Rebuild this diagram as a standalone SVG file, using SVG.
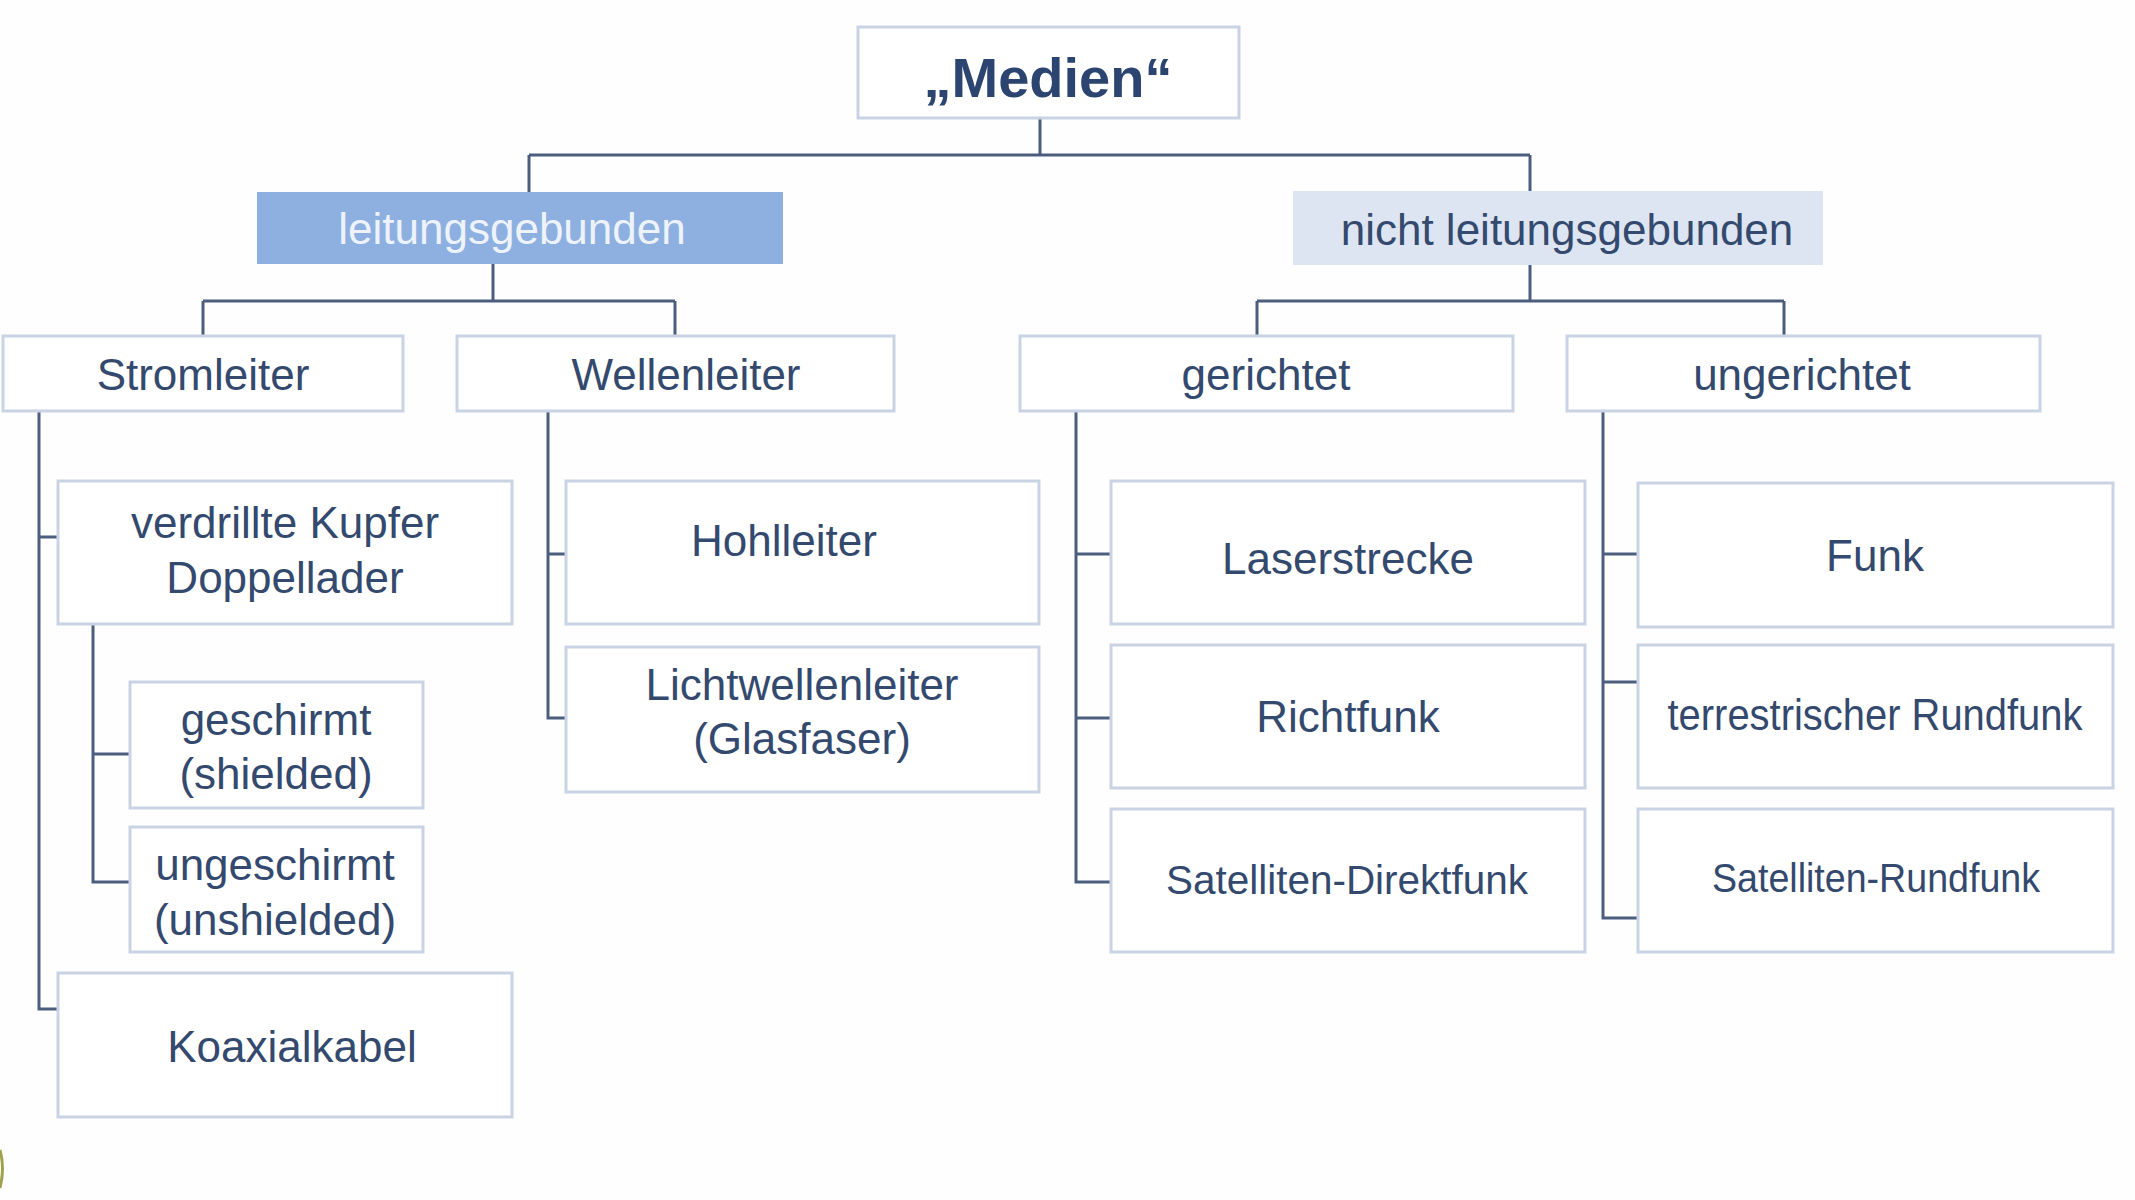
<svg xmlns="http://www.w3.org/2000/svg" width="2135" height="1200" viewBox="0 0 2135 1200">
<style>
.bg{fill:#fefefe}
.box{fill:#ffffff;stroke:#c9d3e3;stroke-width:3}
.lb{fill:#8db0e0;stroke:none}
.nlb{fill:#dce5f1;stroke:none}
.t{font-family:"Liberation Sans",Arial,sans-serif;fill:#34496e;text-anchor:middle;font-size:44px}
.tw{fill:#eef3fb}
.tb{font-weight:bold;font-size:56px;fill:#2b4470}
.ts{font-size:40px}
.con{fill:none;stroke:#4b5e7e;stroke-width:3}
</style>
<rect class="bg" x="0" y="0" width="2135" height="1200"/>
<path d="M0 1150 Q5 1168 0 1188" fill="none" stroke="#9ea24a" stroke-width="3"/>
<g id="connectors">
<path class="con" d="M1040 118V155M529 155H1530M529 155V192M1530 155V191"/>
<path class="con" d="M493 264V301M203 301H675M203 301V336M675 301V336"/>
<path class="con" d="M1530 265V301M1257 301H1784M1257 301V336M1784 301V336"/>
<path class="con" d="M39 411V1009H58M39 537H58"/>
<path class="con" d="M93 624V882H130M93 754H130"/>
<path class="con" d="M548 411V718H566M548 554H566"/>
<path class="con" d="M1076 411V882H1111M1076 554H1111M1076 718H1111"/>
<path class="con" d="M1603 411V918H1638M1603 554H1638M1603 682H1638"/>
</g>
<g id="medien"><rect class="box" x="858" y="27" width="381" height="91"/><text class="t tb" x="1048" y="97">„Medien“</text></g>
<g id="leitungsgebunden"><rect class="lb" x="257" y="192" width="526" height="72"/><text class="t tw" x="512" y="244">leitungsgebunden</text></g>
<g id="nicht-leitungsgebunden"><rect class="nlb" x="1293" y="191" width="530" height="74"/><text class="t" x="1567" y="245">nicht leitungsgebunden</text></g>
<g id="stromleiter"><rect class="box" x="3" y="336" width="400" height="75"/><text class="t" x="203" y="390">Stromleiter</text></g>
<g id="wellenleiter"><rect class="box" x="457" y="336" width="437" height="75"/><text class="t" x="686" y="390">Wellenleiter</text></g>
<g id="gerichtet"><rect class="box" x="1020" y="336" width="493" height="75"/><text class="t" x="1266" y="390">gerichtet</text></g>
<g id="ungerichtet"><rect class="box" x="1567" y="336" width="473" height="75"/><text class="t" x="1802" y="390">ungerichtet</text></g>
<g id="verdrillte"><rect class="box" x="58" y="481" width="454" height="143"/><text class="t" x="285" y="538">verdrillte Kupfer</text><text class="t" x="285" y="593">Doppellader</text></g>
<g id="geschirmt"><rect class="box" x="130" y="682" width="293" height="126"/><text class="t" x="276" y="735">geschirmt</text><text class="t" x="276" y="789">(shielded)</text></g>
<g id="ungeschirmt"><rect class="box" x="130" y="827" width="293" height="125"/><text class="t" x="275" y="880">ungeschirmt</text><text class="t" x="275" y="935">(unshielded)</text></g>
<g id="koaxialkabel"><rect class="box" x="58" y="973" width="454" height="144"/><text class="t" x="292" y="1062">Koaxialkabel</text></g>
<g id="hohlleiter"><rect class="box" x="566" y="481" width="473" height="143"/><text class="t" x="784" y="556">Hohlleiter</text></g>
<g id="lichtwellenleiter"><rect class="box" x="566" y="647" width="473" height="145"/><text class="t" x="802" y="700">Lichtwellenleiter</text><text class="t" x="802" y="754">(Glasfaser)</text></g>
<g id="laserstrecke"><rect class="box" x="1111" y="481" width="474" height="143"/><text class="t" x="1348" y="574">Laserstrecke</text></g>
<g id="richtfunk"><rect class="box" x="1111" y="645" width="474" height="143"/><text class="t" x="1348" y="732">Richtfunk</text></g>
<g id="satelliten-direktfunk"><rect class="box" x="1111" y="809" width="474" height="143"/><text class="t ts" x="1347" y="894" textLength="362" lengthAdjust="spacingAndGlyphs">Satelliten-Direktfunk</text></g>
<g id="funk"><rect class="box" x="1638" y="483" width="475" height="144"/><text class="t" x="1875" y="571">Funk</text></g>
<g id="terrestrischer"><rect class="box" x="1638" y="645" width="475" height="143"/><text class="t" x="1875" y="730" font-size="39" textLength="415" lengthAdjust="spacingAndGlyphs">terrestrischer Rundfunk</text></g>
<g id="satelliten-rundfunk"><rect class="box" x="1638" y="809" width="475" height="143"/><text class="t ts" x="1876" y="892" textLength="328" lengthAdjust="spacingAndGlyphs">Satelliten-Rundfunk</text></g>
</svg>
